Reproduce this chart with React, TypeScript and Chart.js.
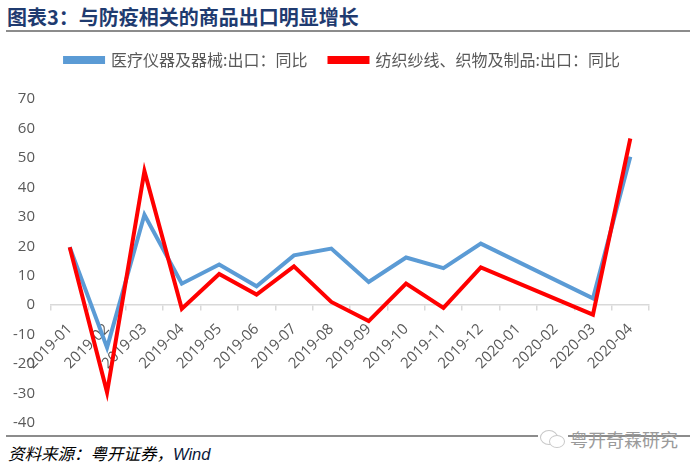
import React, { useEffect, useRef } from "react";
import { Chart, registerables } from "chart.js";

Chart.register(...registerables);

const categories = [
  "2019-01", "2019-02", "2019-03", "2019-04", "2019-05", "2019-06", "2019-07", "2019-08",
  "2019-09", "2019-10", "2019-11", "2019-12", "2020-01", "2020-02", "2020-03", "2020-04",
];
const medicalYoY = [19.7, -14.4, 30.7, 7.3, 13.8, 6.4, 16.9, 19.2, 7.9, 16.2, 12.6, 20.9, null, null, 2.3, 50.4];
const textileYoY = [19.7, -29.6, 45.5, -1.2, 10.6, 3.6, 13.2, 1.1, -5.4, 7.3, -0.9, 12.8, null, null, -3.2, 56.6];
const seriesNames = ["医疗仪器及器械:出口：同比", "纺织纱线、织物及制品:出口：同比"];
const yMin = -40;
const yMax = 70;
const yStep = 10;

const LABEL_FONT = "'Open Sans', 'Liberation Sans', sans-serif";
const CJK_FONT = "'Noto Sans CJK SC', 'Noto Sans', sans-serif";

export default function App() {
  const ref = useRef<HTMLCanvasElement | null>(null);

  useEffect(() => {
    if (!ref.current) return;
    const legendSpacer = {
      id: "legendSpacer",
      beforeInit(chart: any) {
        const legend = chart.legend;
        if (!legend) return;
        const orig = legend.fit;
        legend.fit = function () {
          orig.call(this);
          this.height += 21;
        };
      },
    };
    const chart = new Chart(ref.current, {
      type: "line",
      data: {
        labels: categories,
        datasets: [
          {
            label: seriesNames[0],
            data: medicalYoY,
            borderColor: "#5B9BD5",
            backgroundColor: "#5B9BD5",
            borderWidth: 4,
            pointRadius: 0,
            tension: 0,
            spanGaps: true,
            order: 2,
          },
          {
            label: seriesNames[1],
            data: textileYoY,
            borderColor: "#FF0000",
            backgroundColor: "#FF0000",
            borderWidth: 4,
            pointRadius: 0,
            tension: 0,
            spanGaps: true,
            order: 1,
          },
        ],
      },
      options: {
        animation: false,
        responsive: false,
        layout: { padding: 0 },
        plugins: {
          title: { display: false },
          tooltip: { enabled: false },
          legend: {
            display: true,
            position: "top",
            labels: {
              boxWidth: 38,
              boxHeight: 4,
              padding: 22,
              color: "#595959",
              font: { family: CJK_FONT, size: 16 },
              sort: (a: any, b: any) => a.datasetIndex - b.datasetIndex,
            },
          },
        },
        scales: {
          x: {
            type: "category",
            position: { y: 0 } as any,
            offset: true,
            grid: {
              display: true,
              drawOnChartArea: false,
              drawTicks: true,
              tickLength: 5,
              color: "#D9D9D9",
              lineWidth: 1.5,
              offset: true,
            },
            border: { display: true, color: "#D9D9D9", width: 1.5 },
            ticks: {
              autoSkip: false,
              maxRotation: 45,
              minRotation: 45,
              padding: 10,
              color: "#595959",
              font: { family: LABEL_FONT, size: 15 },
            },
          },
          y: {
            type: "linear",
            position: "left",
            min: yMin,
            max: yMax,
            grid: { display: false, drawTicks: false },
            border: { display: false },
            ticks: {
              stepSize: yStep,
              padding: 16,
              color: "#595959",
              font: { family: LABEL_FONT, size: 15 },
            },
            afterFit: (scale: any) => {
              scale.width = 51;
            },
          },
          yR: {
            type: "linear",
            position: "right",
            display: true,
            grid: { display: false, drawTicks: false },
            border: { display: false },
            ticks: { display: false },
            afterFit: (scale: any) => {
              scale.width = 36;
            },
          },
        },
      },
      plugins: [legendSpacer],
    });
    return () => chart.destroy();
  }, []);

  return (
    <div
      style={{
        position: "absolute",
        left: 0,
        top: 0,
        width: 700,
        height: 469,
        background: "#fff",
        overflow: "hidden",
      }}
    >
      <div
        style={{
          position: "absolute",
          left: 7,
          top: 3,
          fontFamily: CJK_FONT,
          fontWeight: 700,
          fontSize: 20,
          lineHeight: "28px",
          color: "#1F3B70",
          whiteSpace: "nowrap",
        }}
      >
        图表3：与防疫相关的商品出口明显增长
      </div>
      <div
        style={{
          position: "absolute",
          left: 6,
          top: 30,
          width: 684,
          height: 2,
          background: "#8C8C8C",
        }}
      />
      <div
        style={{
          position: "absolute",
          left: 6,
          top: 435,
          width: 684,
          height: 1.5,
          background: "#8C8C8C",
        }}
      />
      <div
        style={{
          position: "absolute",
          left: 538,
          top: 429,
          width: 30,
          height: 20,
          background: "#fff",
        }}
      >
        <div
          style={{
            position: "absolute",
            left: 2,
            top: 1,
            width: 16,
            height: 13,
            borderRadius: "50%",
            border: "1px solid #C8C8C8",
            background: "#fff",
          }}
        />
        <div
          style={{
            position: "absolute",
            left: 11,
            top: 6,
            width: 14,
            height: 11,
            borderRadius: "50%",
            border: "1px solid #C8C8C8",
            background: "#fff",
          }}
        />
      </div>
      <div
        style={{
          position: "absolute",
          left: 570,
          top: 428,
          fontFamily: CJK_FONT,
          fontSize: 18,
          lineHeight: "22px",
          color: "#9A9A9A",
          whiteSpace: "nowrap",
          letterSpacing: 0,
        }}
      >
        粤开奇霖研究
      </div>
      <div
        style={{
          position: "absolute",
          left: 8,
          top: 442,
          fontFamily: CJK_FONT,
          fontStyle: "italic",
          fontSize: 16.5,
          lineHeight: "22px",
          color: "#000",
          whiteSpace: "nowrap",
        }}
      >
        资料来源：粤开证券，
        <span style={{ fontFamily: "'Liberation Sans', sans-serif", color: "#0D1A3A" }}>Wind</span>
      </div>
      <canvas
        ref={ref}
        width={685}
        height={418}
        style={{ position: "absolute", left: 0, top: 30, width: 685, height: 418 }}
      />
    </div>
  );
}
